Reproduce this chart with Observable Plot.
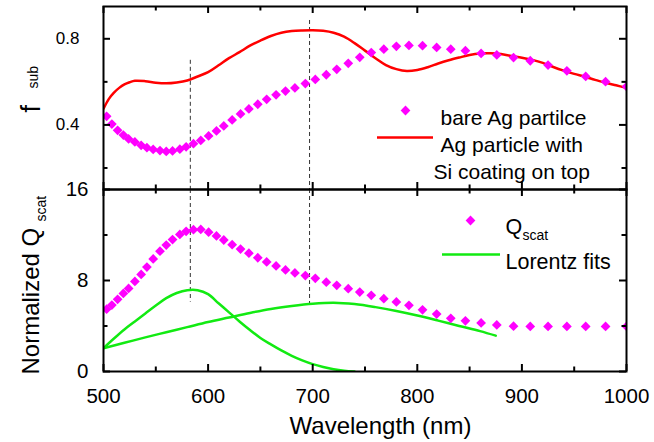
<!DOCTYPE html>
<html><head><meta charset="utf-8">
<script src="https://cdn.jsdelivr.net/npm/d3@7"></script>
<script src="https://cdn.jsdelivr.net/npm/@observablehq/plot@0.6"></script>
<style>
body{margin:0;background:#fff;}
#chart{position:relative;width:654px;height:442px;background:#fff;}
</style></head><body><div id="chart"></div>
<script>
// ---- data ----
const wavelengths = [503, 508, 513.5, 519, 524, 530, 536, 541.5, 547.5, 554, 560, 566, 573, 579, 586, 593, 600.5, 608, 615, 623, 631, 639, 647.5, 656, 665, 674, 683, 693, 702.5, 713, 723, 734, 745, 756, 768, 780, 792, 805, 818.5, 832, 846, 861, 876, 892, 908, 925, 943, 961, 980, 1000];
const fsubBare = [0.44, 0.404, 0.375, 0.353, 0.335, 0.321, 0.305, 0.294, 0.286, 0.281, 0.277, 0.279, 0.287, 0.298, 0.313, 0.328, 0.349, 0.372, 0.395, 0.423, 0.451, 0.474, 0.496, 0.519, 0.54, 0.557, 0.572, 0.592, 0.611, 0.633, 0.658, 0.686, 0.714, 0.736, 0.752, 0.765, 0.769, 0.768, 0.76, 0.752, 0.745, 0.732, 0.725, 0.713, 0.698, 0.678, 0.651, 0.625, 0.601, 0.578];
const qScat = [5.48, 5.84, 6.35, 6.86, 7.3, 7.92, 8.53, 9.18, 9.9, 10.58, 11.12, 11.6, 12.05, 12.32, 12.47, 12.49, 12.25, 11.92, 11.56, 11.15, 10.76, 10.4, 10.0, 9.63, 9.28, 8.93, 8.67, 8.43, 8.19, 7.85, 7.58, 7.28, 6.98, 6.7, 6.4, 6.12, 5.82, 5.42, 5.05, 4.68, 4.46, 4.27, 4.09, 3.98, 3.96, 3.96, 3.96, 3.96, 3.96, 3.96];

const coatedWl = [500, 505, 510, 515, 520, 525, 530, 540, 550, 560, 570, 580, 590, 600, 610, 620, 630, 640, 650, 660, 670, 680, 690, 700, 710, 720, 730, 740, 750, 760, 770, 780, 790, 800, 810, 820, 830, 840, 850, 860, 870, 880, 890, 900, 910, 920, 930, 940, 950, 960, 970, 980, 990, 1000];
const fsubCoated = [0.475, 0.52, 0.55, 0.572, 0.588, 0.598, 0.605, 0.603, 0.596, 0.593, 0.597, 0.606, 0.625, 0.645, 0.677, 0.71, 0.738, 0.768, 0.792, 0.813, 0.828, 0.836, 0.839, 0.84, 0.837, 0.828, 0.81, 0.78, 0.745, 0.71, 0.678, 0.659, 0.65, 0.655, 0.668, 0.685, 0.7, 0.713, 0.725, 0.732, 0.733, 0.729, 0.72, 0.712, 0.702, 0.688, 0.669, 0.652, 0.637, 0.624, 0.609, 0.596, 0.584, 0.572];

const narrowWl = [500, 510, 520, 530, 540, 550, 560, 570, 580, 590, 600, 610, 620, 630, 640, 650, 660, 670, 680, 690, 700, 710, 720, 730, 740];
const narrowFit = [2.05, 2.9, 3.7, 4.4, 5.1, 5.8, 6.45, 6.9, 7.15, 7.15, 6.8, 6.0, 5.2, 4.4, 3.65, 2.95, 2.38, 1.85, 1.38, 0.98, 0.65, 0.4, 0.2, 0.07, 0.0];
const broadWl = [500, 520, 540, 560, 580, 600, 620, 640, 660, 680, 700, 720, 740, 760, 780, 800, 820, 840, 860, 875];
const broadFit = [2.05, 2.52, 3.0, 3.45, 3.9, 4.35, 4.75, 5.15, 5.5, 5.76, 5.96, 6.05, 5.93, 5.66, 5.32, 4.92, 4.47, 4.0, 3.55, 3.15];

const peakWl = [583, 697];
const dashTopStart = [0.70, 0.885];
const dashBottomEnd = [6.1, 5.95];

const xDomain = [500, 1000];
const fDomain = [0.1, 0.95];
const qDomain = [0, 16];
const xMajor = [500, 600, 700, 800, 900, 1000];
const xMinor = [550, 650, 750, 850, 950];
const fMajor = [0.4, 0.8];
const fMinor = [0.2, 0.6];
const qMajor = [0, 8, 16];
const qMinor = [4, 12];

const topLegend = ["bare Ag partilce", "Ag particle with", "Si coating on top"];
const bottomLegend = ["Q", "scat", "Lorentz fits"];
const xTitle = "Wavelength (nm)";
const fTitle = ["f", "sub"];
const qTitle = ["Normalized Q", "scat"];

// ---- build tables ----
const bare = wavelengths.map((w, i) => ({wl: w, v: fsubBare[i]}));
const scat = wavelengths.map((w, i) => ({wl: w, v: qScat[i]}));
const coated = coatedWl.map((w, i) => ({wl: w, v: fsubCoated[i]}));
const narrow = narrowWl.map((w, i) => ({wl: w, v: narrowFit[i]}));
const broad = broadWl.map((w, i) => ({wl: w, v: broadFit[i]}));
const dashTop = peakWl.map((w, i) => ({wl: w, y1: dashTopStart[i]}));
const dashBottom = peakWl.map((w, i) => ({wl: w, y2: dashBottomEnd[i]}));

const FONT = '"Liberation Sans", Arial, Helvetica, sans-serif';
const MAGENTA = "#ff00ff", RED = "#ff0000", GREEN = "#12ea12";
const W = 654, ML = 103, MR = 28;
const FW = W - ML - MR;

// inward tick marks: short rules hugging each frame edge
function edgeTicks(values, anchor, len, FH) {
  const o = {stroke: "black", strokeWidth: 2};
  if (anchor === "bottom") return Plot.ruleX(values, {x: d => d, insetTop: FH - len, ...o});
  if (anchor === "top") return Plot.ruleX(values, {x: d => d, insetBottom: FH - len, ...o});
  if (anchor === "left") return Plot.ruleY(values, {y: d => d, insetRight: FW - len, ...o});
  return Plot.ruleY(values, {y: d => d, insetLeft: FW - len, ...o});
}
function ticks(xMaj, xMin, yMaj, yMin, FH) {
  return [
    ...["top", "bottom"].flatMap(a => [edgeTicks(xMaj, a, 7, FH), edgeTicks(xMin, a, 4.5, FH)]),
    ...["left", "right"].flatMap(a => [edgeTicks(yMaj, a, 7, FH), edgeTicks(yMin, a, 4.5, FH)])
  ];
}
function label(t, o) {
  return Plot.text([t], {text: d => d, fill: "black", fontFamily: FONT, textAnchor: "start", lineAnchor: "bottom", ...o});
}

const TOP_H = 190, TOP_MT = 6, TOP_MB = 1;
const topPlot = Plot.plot({
  width: W, height: TOP_H,
  marginLeft: ML, marginRight: MR, marginTop: TOP_MT, marginBottom: TOP_MB,
  style: {fontFamily: FONT, background: "transparent", overflow: "visible"},
  x: {domain: xDomain, label: null, axis: null},
  y: {domain: fDomain, label: null, axis: null},
  marks: [
    Plot.ruleX(dashTop, {x: "wl", y1: "y1", y2: fDomain[0], stroke: "#333", strokeWidth: 1, strokeDasharray: "4,3"}),
    Plot.line(coated, {x: "wl", y: "v", stroke: RED, strokeWidth: 2.5, curve: "catmull-rom", clip: true}),
    Plot.dot(bare, {x: "wl", y: "v", symbol: "diamond2", r: 4.4, fill: MAGENTA, stroke: "none", clip: true}),
    Plot.frame({stroke: "black", strokeWidth: 2}),
    ...ticks(xMajor, xMinor, fMajor, fMinor, TOP_H - TOP_MT - TOP_MB),
    Plot.axisY(fMajor, {anchor: "left", tickSize: 0, tickPadding: 24, fontSize: 17, tickFormat: d3.format(".1f"), label: null, fill: "black"}),
    // legend
    Plot.dot([0], {frameAnchor: "top-left", dx: 302, dy: 104, symbol: "diamond2", r: 4.4, fill: MAGENTA, stroke: "none"}),
    label(topLegend[0], {frameAnchor: "top-left", dx: 337, dy: 118.6, fontSize: 21}),
    Plot.ruleY([fDomain[1]], {dy: 131, insetLeft: 274, insetRight: 193, stroke: RED, strokeWidth: 2.5}),
    label(topLegend[1], {frameAnchor: "top-left", dx: 337, dy: 145.6, fontSize: 21}),
    label(topLegend[2], {frameAnchor: "top-left", dx: 330, dy: 172.1, fontSize: 21}),
    // axis title
    label(fTitle[0], {frameAnchor: "bottom-left", rotate: -90, dx: -63.5, dy: -77, fontSize: 27}),
    label(fTitle[1], {frameAnchor: "bottom-left", rotate: -90, dx: -65.6, dy: -101, fontSize: 14})
  ]
});

const BOT_H = 254, BOT_MT = 1, BOT_MB = 71;
const bottomPlot = Plot.plot({
  width: W, height: BOT_H,
  marginLeft: ML, marginRight: MR, marginTop: BOT_MT, marginBottom: BOT_MB,
  style: {fontFamily: FONT, background: "transparent", overflow: "visible"},
  x: {domain: xDomain, label: null, axis: null},
  y: {domain: qDomain, label: null, axis: null},
  marks: [
    Plot.ruleX(dashBottom, {x: "wl", y1: qDomain[1], y2: "y2", stroke: "#333", strokeWidth: 1, strokeDasharray: "4,3"}),
    Plot.line(narrow, {x: "wl", y: "v", stroke: GREEN, strokeWidth: 2.5, curve: "catmull-rom", clip: true}),
    Plot.line(broad, {x: "wl", y: "v", stroke: GREEN, strokeWidth: 2.5, curve: "catmull-rom", clip: true}),
    Plot.dot(scat, {x: "wl", y: "v", symbol: "diamond2", r: 4.4, fill: MAGENTA, stroke: "none", clip: true}),
    Plot.frame({stroke: "black", strokeWidth: 2}),
    ...ticks(xMajor, xMinor, qMajor, qMinor, BOT_H - BOT_MT - BOT_MB),
    Plot.axisY(qMajor, {anchor: "left", tickSize: 0, tickPadding: 15, fontSize: 20.5, label: null, fill: "black"}),
    Plot.axisX(xMajor, {anchor: "bottom", tickSize: 0, tickPadding: 17, fontSize: 20.5, tickFormat: d3.format("d"), label: null, fill: "black"}),
    // legend
    Plot.dot([0], {frameAnchor: "top-left", dx: 367, dy: 31, symbol: "diamond2", r: 4.4, fill: MAGENTA, stroke: "none"}),
    label(bottomLegend[0], {frameAnchor: "top-left", dx: 402, dy: 44.2, fontSize: 21.5}),
    label(bottomLegend[1], {frameAnchor: "top-left", dx: 419, dy: 50.1, fontSize: 14}),
    Plot.ruleY([qDomain[1]], {dy: 65, insetLeft: 339, insetRight: 126, stroke: GREEN, strokeWidth: 2.5}),
    label(bottomLegend[2], {frameAnchor: "top-left", dx: 402, dy: 79.2, fontSize: 21.5}),
    // axis titles
    label(qTitle[0], {frameAnchor: "bottom-left", rotate: -90, dx: -64.3, dy: 3, fontSize: 24}),
    label(qTitle[1], {frameAnchor: "bottom-left", rotate: -90, dx: -57.2, dy: -150, fontSize: 14}),
    label(xTitle, {frameAnchor: "bottom", textAnchor: "middle", dx: 15.5, dy: 62, fontSize: 24})
  ]
});

const chart = document.getElementById("chart");
for (const [svg, top] of [[topPlot, 0], [bottomPlot, 188]]) {
  svg.style.position = "absolute";
  svg.style.left = "0px";
  svg.style.top = top + "px";
  svg.style.maxWidth = "none";
  chart.appendChild(svg);
}
</script>
</body></html>
